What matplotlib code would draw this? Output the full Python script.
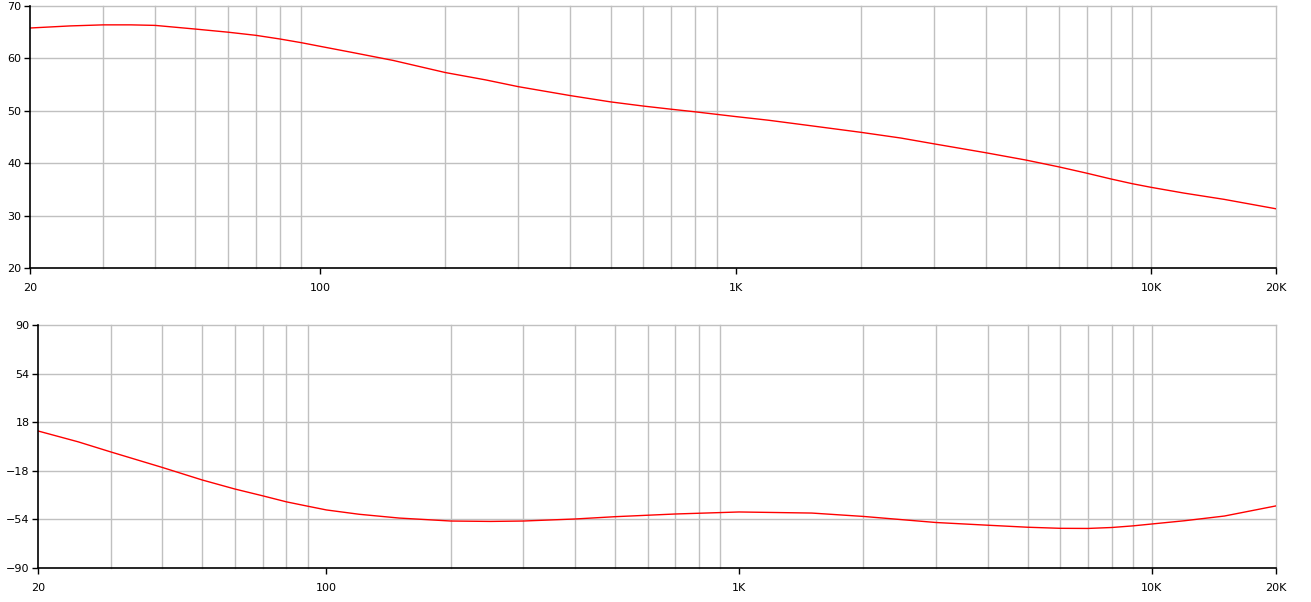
import numpy as np
import matplotlib.pyplot as plt
from matplotlib.ticker import FixedLocator, NullFormatter

# frequency response readings (Hz)
mag_freq = [20, 25, 30, 35, 40, 50, 60, 70, 80, 90, 100, 120, 150, 200, 250, 300, 400,
            500, 600, 700, 800, 1000, 1200, 1500, 2000, 2500, 3000, 4000, 5000, 6000,
            7000, 8000, 9000, 10000, 12000, 15000, 20000]
mag_db = [65.8, 66.2, 66.4, 66.4, 66.3, 65.6, 65.0, 64.4, 63.7, 63.0, 62.3, 61.1, 59.6,
          57.3, 55.9, 54.6, 52.9, 51.7, 50.9, 50.3, 49.8, 48.9, 48.2, 47.2, 45.9, 44.8,
          43.7, 42.0, 40.6, 39.3, 38.1, 37.0, 36.1, 35.4, 34.3, 33.1, 31.3]

phase_freq = [20, 25, 30, 40, 50, 60, 70, 80, 90, 100, 120, 150, 200, 250, 300, 400, 500,
              700, 1000, 1500, 2000, 3000, 4000, 5000, 6000, 7000, 8000, 9000, 10000,
              12000, 15000, 20000]
phase_deg = [11.5, 3.5, -4.0, -15.5, -24.8, -31.5, -36.5, -41.0, -44.2, -47.0, -50.2,
             -53.0, -55.2, -55.5, -55.2, -53.7, -52.0, -50.0, -48.5, -49.3, -51.8, -56.3,
             -58.3, -59.8, -60.6, -60.7, -60.0, -58.8, -57.4, -55.0, -51.5, -44.0]

x_ticks = [20, 100, 1000, 10000, 20000]
x_labels = ['20', '100', '1K', '10K', '20K']
grid_freqs = [f * d for d in (10, 100, 1000) for f in range(2, 10)] + [10000, 20000]
grid_freqs = [f for f in grid_freqs if 20 < f <= 20000]

mag_ticks = [20, 30, 40, 50, 60, 70]
phase_ticks = [-90, -54, -18, 18, 54, 90]

plt.rcParams['font.family'] = 'DejaVu Sans'
plt.rcParams['font.size'] = 8

fig = plt.figure(figsize=(13.11, 6.02), dpi=100)
W, H = 1311, 602
ax1 = fig.add_axes([30 / W, 1 - 268 / H, 1246 / W, 262 / H])
ax2 = fig.add_axes([38 / W, 1 - 568 / H, 1238 / W, 243 / H])

def style(ax, yticks):
    ax.set_xscale('log')
    ax.set_xlim(20, 20000)
    ax.set_ylim(yticks[0], yticks[-1])
    ax.set_yticks(yticks)
    ax.xaxis.set_major_locator(FixedLocator(x_ticks))
    ax.set_xticklabels(x_labels)
    ax.xaxis.set_minor_locator(FixedLocator(grid_freqs))
    ax.xaxis.set_minor_formatter(NullFormatter())
    ax.tick_params(which='minor', length=0)
    ax.tick_params(which='major', length=4, width=1, color='black', labelcolor='black')
    ax.tick_params(axis='x', pad=7)
    ax.tick_params(axis='y', pad=2)
    for v in grid_freqs:
        ax.axvline(v, color='#c0c0c0', lw=1, zorder=0, clip_on=False)
    for v in yticks[1:]:
        ax.axhline(v, color='#c0c0c0', lw=1, zorder=0, clip_on=False)
    ax.spines['top'].set_visible(False)
    ax.spines['right'].set_visible(False)
    ax.spines['left'].set_linewidth(1.2)
    ax.spines['bottom'].set_linewidth(1.2)

style(ax1, mag_ticks)
style(ax2, phase_ticks)

ax1.plot(mag_freq, mag_db, color='red', lw=1)
ax2.plot(phase_freq, phase_deg, color='red', lw=1)

fig.savefig('out.png', dpi=100)
